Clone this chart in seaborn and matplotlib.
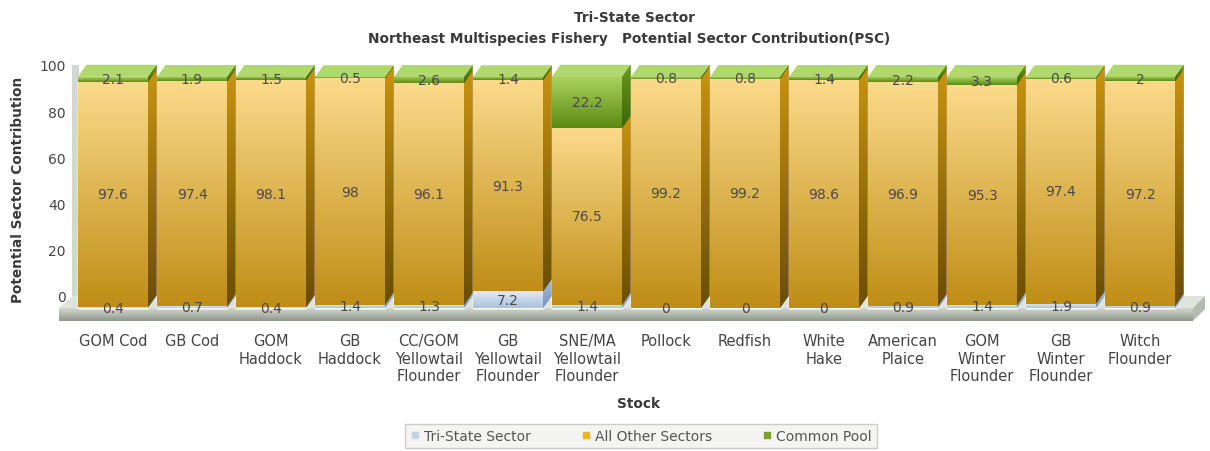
import numpy as np
import pandas as pd
import seaborn as sns
import matplotlib.pyplot as plt
import matplotlib.colors as mcolors
from matplotlib.patches import Polygon
from matplotlib.lines import Line2D

# --- data ---
stocks = ["GOM Cod", "GB Cod", "GOM\nHaddock", "GB\nHaddock",
          "CC/GOM\nYellowtail\nFlounder", "GB\nYellowtail\nFlounder",
          "SNE/MA\nYellowtail\nFlounder", "Pollock", "Redfish", "White\nHake",
          "American\nPlaice", "GOM\nWinter\nFlounder", "GB\nWinter\nFlounder",
          "Witch\nFlounder"]
tri_state = [0.4, 0.7, 0.4, 1.4, 1.3, 7.2, 1.4, 0, 0, 0, 0.9, 1.4, 1.9, 0.9]
all_other = [97.6, 97.4, 98.1, 98, 96.1, 91.3, 76.5, 99.2, 99.2, 98.6, 96.9, 95.3, 97.4, 97.2]
common_pool = [2.1, 1.9, 1.5, 0.5, 2.6, 1.4, 22.2, 0.8, 0.8, 1.4, 2.2, 3.3, 0.6, 2]
series_names = ["Tri-State Sector", "All Other Sectors", "Common Pool"]
y_ticks = [0, 20, 40, 60, 80, 100]

df = pd.DataFrame({"stock": stocks, "tri": tri_state, "other": all_other, "pool": common_pool})
df["mid"] = df["tri"] + df["other"]
df["top"] = df["mid"] + df["pool"]

# colours (front top, front bottom, side top, side bottom)
GREEN = ("#a9d35e", "#5d8b13", "#6a9a1c", "#3e6408")
ORANGE = ("#fbda8a", "#c08e17", "#c8930f", "#6a4d05")
BLUE = ("#e0ebf6", "#a9c1dc", "#a6bddc", "#7393bd")
GREEN_TOP = "#b0d86e"

sns.set_style("white")
plt.rcParams["font.family"] = ["DejaVu Sans"]

W, H = 1210, 452
fig = plt.figure(figsize=(W / 100, H / 100), dpi=100)
L, R, T, B = 56, 1208, 58, 330
ax = fig.add_axes([L / W, 1 - B / H, (R - L) / W, (B - T) / H])

# pixel <-> data mapping of the pseudo-3D front plane
x0_px, pitch = 113, 79
y0_px, ppu = 309, 2.31
def xd(p):
    return (p - x0_px) / pitch
def yd(p):
    return (y0_px - p) / ppu
dx = 8.5 / pitch
dy = 12 / ppu
bar_w = 70 / pitch


def grad(c_top, c_bot, n=64):
    a = np.array(mcolors.to_rgb(c_top))
    b = np.array(mcolors.to_rgb(c_bot))
    t = np.linspace(0, 1, n)[:, None]
    return (a * (1 - t) + b * t)[:, None, :]


def grad_poly(pts, c_top, c_bot, z):
    poly = Polygon(pts, closed=True, facecolor=c_bot, edgecolor="none", zorder=z)
    ax.add_patch(poly)
    xs = [p[0] for p in pts]
    ys = [p[1] for p in pts]
    im = ax.imshow(grad(c_top, c_bot), extent=(min(xs), max(xs), min(ys), max(ys)),
                   aspect="auto", origin="upper", zorder=z, interpolation="bilinear")
    im.set_clip_path(poly)


# left wall strip and floor slab
xw0, xw1 = xd(72), xd(79)
ax.add_patch(Polygon([(xw0, dy), (xw1, dy), (xw1, 100 + dy), (xw0, 100 + dy)],
                     facecolor="#d3d7d0", edgecolor="none", zorder=0))
xb0, xb1 = xd(59), xd(1193)
dxl, dxr = 14 / pitch, 12 / pitch
thick = 13 / ppu
ax.add_patch(Polygon([(xb0, 0), (xb0 + dxl, dy), (xb1 + dxr, dy), (xb1, 0)],
                     facecolor="#dfe3dc", edgecolor="none", zorder=1))
grad_poly([(xb0, 0), (xb1, 0), (xb1, -thick), (xb0, -thick)], "#d3d8cf", "#8f988c", 1)
ax.add_patch(Polygon([(xb1, 0), (xb1 + dxr, dy), (xb1 + dxr, dy - thick), (xb1, -thick)],
                     facecolor="#b3bbb0", edgecolor="none", zorder=1))

# stacked bars: cumulative layers drawn by seaborn
for col, c in [("top", GREEN), ("mid", ORANGE), ("tri", BLUE)]:
    sns.barplot(data=df, x="stock", y=col, color=c[1], width=bar_w, saturation=1,
                errorbar=None, ax=ax, zorder=3)

bars = ax.containers[0].patches
for i, p in enumerate(bars):
    xl = p.get_x()
    xr = xl + p.get_width()
    segs = [(0, tri_state[i], BLUE), (tri_state[i], all_other[i], ORANGE),
            (tri_state[i] + all_other[i], common_pool[i], GREEN)]
    for b0, h, c in segs:
        t0 = b0 + h
        if h > 0:
            ax.imshow(grad(c[0], c[1]), extent=(xl, xr, b0, t0), aspect="auto",
                      origin="upper", zorder=4, interpolation="bilinear")
            grad_poly([(xr, b0), (xr + dx, b0 + dy), (xr + dx, t0 + dy), (xr, t0)],
                      c[2], c[3], 4)
        ax.text((xl + xr) / 2, b0 + h / 2, f"{h:g}", ha="center", va="center",
                fontsize=10, color="#4a4a4a", zorder=10)
    top = segs[-1][0] + segs[-1][1]
    ax.add_patch(Polygon([(xl, top), (xl + dx, top + dy), (xr + dx, top + dy), (xr, top)],
                         facecolor=GREEN_TOP, edgecolor="none", zorder=4))

ax.set_yticks(np.array(y_ticks) + dy)
ax.set_yticklabels([str(v) for v in y_ticks])
ax.tick_params(axis="y", length=0, pad=-7, labelsize=10, labelcolor="#444444")
ax.tick_params(axis="x", length=0, pad=3, labelsize=10.5, labelcolor="#444444")
ax.set_xlabel("")
ax.set_ylabel("")
for s in ax.spines.values():
    s.set_visible(False)
ax.set_xlim(xd(L), xd(R))
ax.set_ylim(yd(B), yd(T))

# titles and axis names
tc = "#3a3a3a"
fig.text(634 / W, 1 - 18 / H, "Tri-State Sector", ha="center", va="center",
         fontsize=9.8, fontweight="bold", color=tc)
fig.text(629 / W, 1 - 39 / H,
         "Northeast Multispecies Fishery   Potential Sector Contribution(PSC)",
         ha="center", va="center", fontsize=9.8, fontweight="bold", color=tc)
fig.text(18 / W, 1 - 190 / H, "Potential Sector Contribution", rotation=90,
         ha="center", va="center", fontsize=9.8, fontweight="bold", color=tc)
fig.text(639 / W, 1 - 404 / H, "Stock", ha="center", va="center",
         fontsize=9.8, fontweight="bold", color=tc)

handles = [Line2D([], [], marker="s", ls="", color=c, markersize=4)
           for c in ["#c3d3e4", "#f0b41c", "#7f9f25"]]
fig.legend(handles, series_names, loc="center", bbox_to_anchor=(641 / W, 1 - 437 / H),
           ncol=3, frameon=True, fontsize=10, handlelength=0.7, handletextpad=0.3,
           columnspacing=3.6, borderpad=0.35, fancybox=False, edgecolor="#cccccc",
           facecolor="#f4f4f2", framealpha=1, labelcolor="#555555")

fig.savefig("out.png", dpi=100)
